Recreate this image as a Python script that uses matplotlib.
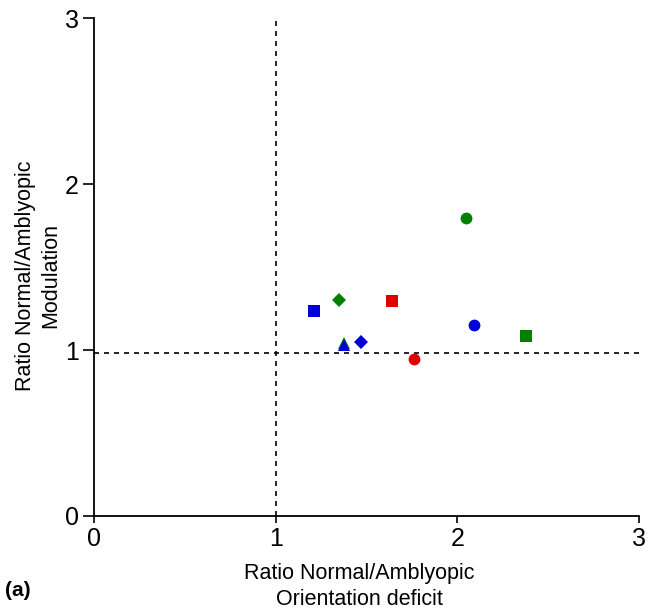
import matplotlib.pyplot as plt

plt.rcParams['font.family'] = ['Liberation Sans', 'DejaVu Sans']

# Точки: (x, y, маркер, колір)
xs = [1.21, 1.35, 1.64, 1.378, 1.378, 1.468, 1.761, 2.048, 2.09, 2.376]
ys = [1.235, 1.30, 1.297, 1.045, 1.03, 1.05, 0.944, 1.797, 1.152, 1.086]
markers = ['s', 'D', 's', '^', '^', 'D', 'o', 'o', 'o', 's']
colors = ['#0000d8', '#008000', '#e00000', '#008000', '#0000d8',
          '#0000d8', '#e00000', '#008000', '#0000d8', '#008000']
sizes = [9, 7, 9, 9, 9, 7, 8.5, 8.5, 8.5, 9]

ref_x = 1.0
ref_y = 0.98

fig = plt.figure(figsize=(6.6, 6.11), dpi=100)
ax = fig.add_axes([0.1424, 0.1555, 0.8258, 0.815])

ax.plot([ref_x, ref_x], [0, 3], ls=(0, (3, 3)), color='black', lw=1.2, zorder=1)
ax.plot([0, 3], [ref_y, ref_y], ls=(0, (3, 3)), color='black', lw=1.2, zorder=1)

for x, y, m, c, s in zip(xs, ys, markers, colors, sizes):
    ax.plot(x, y, marker=m, color=c, markersize=s, markeredgewidth=0, ls='none', zorder=3)

ax.set_xlim(0, 3)
ax.set_ylim(0, 3)
ax.set_xticks([0, 1, 2, 3])
ax.set_yticks([0, 1, 2, 3])
ax.spines['top'].set_visible(False)
ax.spines['right'].set_visible(False)
ax.spines['left'].set_linewidth(1.3)
ax.spines['bottom'].set_linewidth(1.3)
ax.tick_params(axis='y', length=8, width=1.2, labelsize=18, pad=3)
ax.tick_params(axis='x', length=5, width=1.2, labelsize=18, pad=3)

fig.text(0.545, 0.04, 'Ratio Normal/Amblyopic\nOrientation deficit',
         ha='center', va='center', fontsize=15.5, linespacing=1.35)
fig.text(0.058, 0.549, 'Ratio Normal/Amblyopic\nModulation',
         ha='center', va='center', fontsize=15.5, rotation=90, linespacing=1.3)
fig.text(0.008, 0.034, '(a)', fontsize=15, fontweight='bold', va='center')

fig.savefig('out.png', dpi=100)
